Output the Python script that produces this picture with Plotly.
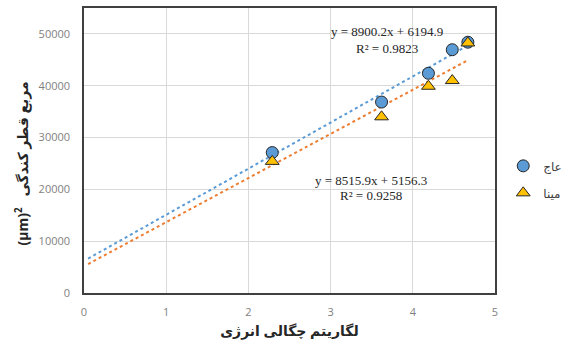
import numpy as np
import plotly.graph_objects as go

# Data
x_ivory = [2.29, 3.62, 4.19, 4.48, 4.67]
y_ivory = [27100, 36850, 42400, 46950, 48400]
x_enamel = [2.29, 3.62, 4.19, 4.48, 4.67]
y_enamel = [25400, 34000, 39900, 41000, 48250]
names = ["عاج", "مینا"]

# Trendline coefficients (as printed on the chart)
slope_ivory, intercept_ivory = 8900.2, 6194.9
slope_enamel, intercept_enamel = 8515.9, 5156.3
r2_ivory, r2_enamel = 0.9823, 0.9258
trend_start = 0.05

x_ticks = [0, 1, 2, 3, 4, 5]
y_ticks = [0, 10000, 20000, 30000, 40000, 50000]

blue = "#5B9BD5"
gold = "#FFC000"
orange = "#ED7D31"
edge = "#262626"

fig = go.Figure()

tx_i = np.array([trend_start, max(x_ivory)])
tx_e = np.array([trend_start, max(x_enamel)])
fig.add_trace(go.Scatter(x=tx_i, y=slope_ivory * tx_i + intercept_ivory, mode="lines",
                         line=dict(color=blue, dash="dot", width=2), showlegend=False))
fig.add_trace(go.Scatter(x=tx_e, y=slope_enamel * tx_e + intercept_enamel, mode="lines",
                         line=dict(color=orange, dash="dot", width=2), showlegend=False))

fig.add_trace(go.Scatter(x=x_ivory, y=y_ivory, mode="markers", name=names[0], legendgroup="a",
                         marker=dict(symbol="circle", size=12, color=blue, line=dict(color=edge, width=1))))
fig.add_trace(go.Scatter(x=x_enamel, y=y_enamel, mode="markers", name=names[1], legendgroup="b",
                         marker=dict(symbol="triangle-up", size=12, color=gold, line=dict(color=edge, width=1))))

serif = dict(family="Liberation Serif, Times New Roman, serif", size=13, color="#262626")
fig.add_annotation(x=3.68, y=50500, text=f"y = {slope_ivory}x + {intercept_ivory}", showarrow=False, font=serif)
fig.add_annotation(x=3.68, y=47200, text=f"R² = {r2_ivory}", showarrow=False, font=serif)
fig.add_annotation(x=3.49, y=21700, text=f"y = {slope_enamel}x + {intercept_enamel}", showarrow=False, font=serif)
fig.add_annotation(x=3.49, y=18800, text=f"R² = {r2_enamel}", showarrow=False, font=serif)

tickfont = dict(family="Open Sans, Liberation Sans, sans-serif", size=11, color="#7f7f7f")
titlefont = dict(family="Noto Sans, DejaVu Sans, sans-serif", size=14, color="#262626", weight="bold")

# y-axis title as a rotated annotation
fig.add_annotation(xref="paper", yref="paper", x=-0.150, y=0.456, xanchor="center", yanchor="middle",
                   textangle=-90, showarrow=False, font=titlefont,
                   text="(µm)<sup>2</sup>   مربع قطر کندگی")

fig.update_xaxes(range=[0, 5], tickvals=x_ticks, ticktext=[str(v) for v in x_ticks],
                 showgrid=True, gridcolor="#d9d9d9", gridwidth=1, zeroline=False,
                 showline=True, linecolor="#404040", linewidth=1.5, mirror=True,
                 tickfont=tickfont, ticks="", ticklabelstandoff=8,
                 title=dict(text="لگاریتم چگالی انرژی", font=titlefont, standoff=8))
fig.update_yaxes(range=[0, 55000], tickvals=y_ticks, ticktext=[str(v) for v in y_ticks],
                 showgrid=True, gridcolor="#d9d9d9", gridwidth=1, zeroline=False,
                 showline=True, linecolor="#404040", linewidth=1.5, mirror=True,
                 tickfont=tickfont, ticks="", ticklabelstandoff=10)

fig.update_layout(
    width=573, height=347,
    margin=dict(l=84, r=77, t=6, b=54),
    plot_bgcolor="white", paper_bgcolor="white",
    legend=dict(x=1.02, y=0.497, xanchor="left", yanchor="top", traceorder="grouped", tracegroupgap=8,
                font=dict(family="Noto Sans, DejaVu Sans, sans-serif", size=12, color="#404040"),
                bgcolor="rgba(0,0,0,0)"),
)

fig.write_html("out.html", config={"displayModeBar": False},
               post_script="document.body.style.margin='0';")
